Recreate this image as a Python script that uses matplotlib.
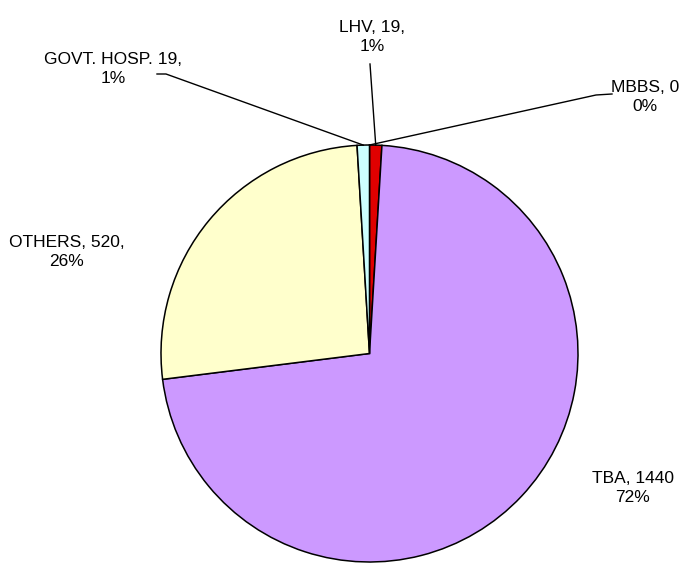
import numpy as np
import matplotlib.pyplot as plt

plt.rcParams['font.family'] = ['Liberation Sans', 'DejaVu Sans']

# data, in the order drawn clockwise from 12 o'clock
labels = ['MBBS', 'LHV', 'TBA', 'OTHERS', 'GOVT. HOSP.']
values = [0, 19, 1440, 520, 19]
pcts = ['0%', '1%', '72%', '26%', '1%']
label_text = ['MBBS, 0\n0%', 'LHV, 19,\n1%', 'TBA, 1440\n72%',
              'OTHERS, 520,\n26%', 'GOVT. HOSP. 19,\n1%']
colors = ['#FFFFFF', '#E00000', '#CC99FF', '#FFFFCC', '#CCFFFF']

W, H = 700, 564
fig = plt.figure(figsize=(W / 100, H / 100), dpi=100)
ax = fig.add_axes([0, 0, 1, 1])

cx, cy, r = 369.5, H - 353.5, 208.5
wedges, _ = ax.pie(values, colors=colors, startangle=90, counterclock=False,
                   center=(cx, cy), radius=r,
                   wedgeprops=dict(edgecolor='black', linewidth=1.1))

# label positions (pixel coords from top) and leader-line start points
text_pos = [(645, 97), (372, 37), (633, 488), (67, 252), (113, 69)]
leaders = {0: [(612, 94), (596, 95)], 1: [(370, 64)], 4: [(157, 74), (166, 74)]}

for i, w in enumerate(wedges):
    tx, ty = text_pos[i]
    ax.text(tx, H - ty, label_text[i], ha='center', va='center',
            fontsize=12.5, linespacing=1.3)
    if i in leaders:
        mid = np.deg2rad((w.theta1 + w.theta2) / 2)
        ex, ey = cx + r * np.cos(mid), cy + r * np.sin(mid)
        pts = [(x, H - y) for x, y in leaders[i]] + [(ex, ey)]
        xs, ys = zip(*pts)
        ax.plot(xs, ys, color='black', linewidth=1.0)

ax.set_xlim(0, W)
ax.set_ylim(0, H)
ax.set_axis_off()

fig.savefig('out.png', dpi=100, facecolor='white')
